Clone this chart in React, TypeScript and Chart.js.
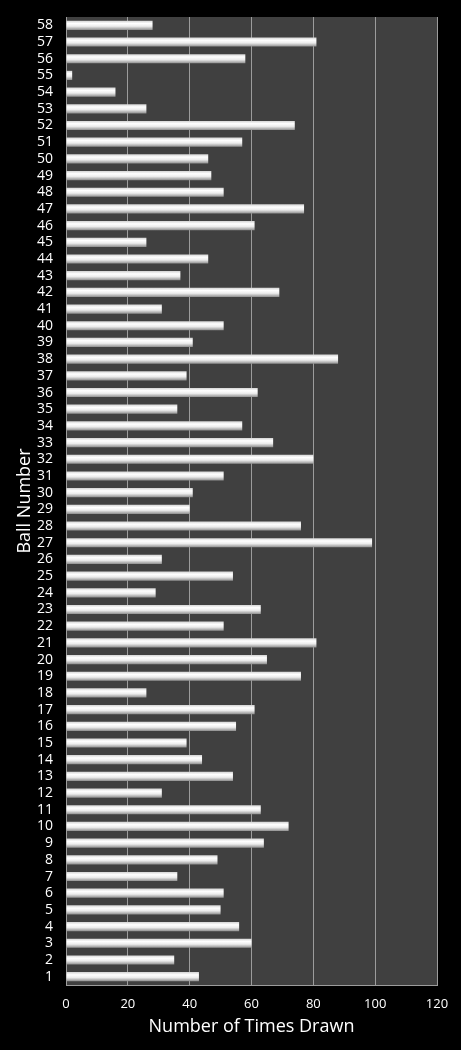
import React, { useRef, useEffect } from 'react';
import { Chart, registerables } from 'chart.js';

Chart.register(...registerables);

const balls = Array.from({ length: 58 }, (_, i) => String(i + 1));

// times drawn for balls 1..58
const timesDrawn = [
  43, 35, 60, 56, 50, 51, 36, 49, 64, 72,
  63, 31, 54, 44, 39, 55, 61, 26, 76, 65,
  81, 51, 63, 29, 54, 31, 99, 76, 40, 41,
  51, 80, 67, 57, 36, 62, 39, 88, 41, 51,
  31, 69, 37, 46, 26, 61, 77, 51, 47, 46,
  57, 74, 26, 16, 2, 58, 81, 28,
];

const xTicks = [0, 20, 40, 60, 80, 100, 120];

const FONT = '"Open Sans", sans-serif';

const plotBg = {
  id: 'plotBg',
  beforeDraw(chart: Chart) {
    const { ctx, chartArea } = chart;
    ctx.save();
    ctx.fillStyle = '#404040';
    ctx.fillRect(chartArea.left, chartArea.top, chartArea.right - chartArea.left, chartArea.bottom - chartArea.top);
    ctx.restore();
  },
};

// shiny cylinder-ish fill per bar
const barShade = {
  id: 'barShade',
  beforeDatasetsDraw(chart: Chart) {
    const { ctx } = chart;
    const meta = chart.getDatasetMeta(0);
    meta.data.forEach((el: any) => {
      const h = el.height;
      const g = ctx.createLinearGradient(0, el.y - h / 2, 0, el.y + h / 2);
      g.addColorStop(0, '#d4d4d4');
      g.addColorStop(0.3, '#ffffff');
      g.addColorStop(0.6, '#ececec');
      g.addColorStop(1, '#8e8e8e');
      el.options.backgroundColor = g;
    });
  },
};

export default function App() {
  const canvasRef = useRef<HTMLCanvasElement>(null);
  const chartRef = useRef<Chart | null>(null);

  useEffect(() => {
    document.body.style.margin = '0';
    document.body.style.background = '#000';
    if (!canvasRef.current) return;
    if (chartRef.current) chartRef.current.destroy();

    chartRef.current = new Chart(canvasRef.current, {
      type: 'bar',
      data: {
        labels: balls,
        datasets: [{
          data: timesDrawn,
          backgroundColor: () => '#e0e0e0',
          borderWidth: 0,
          barPercentage: 0.55,
          categoryPercentage: 1,
        }],
      },
      options: {
        indexAxis: 'y',
        animation: false,
        responsive: true,
        maintainAspectRatio: false,
        layout: { padding: { left: 0, right: 24, top: 17, bottom: 0 } },
        plugins: {
          legend: { display: false },
          tooltip: { enabled: false },
        },
        scales: {
          x: {
            min: 0,
            max: 120,
            afterBuildTicks: (scale: any) => {
              scale.ticks = xTicks.map((v) => ({ value: v }));
            },
            afterFit: (scale: any) => { scale.height = 65; },
            grid: { color: '#9c9c9c', lineWidth: 1, drawTicks: false },
            border: { display: true, color: '#9c9c9c' },
            ticks: { color: '#ffffff', padding: 11, font: { family: FONT, size: 13 } },
            title: {
              display: true,
              text: 'Number of Times Drawn',
              color: '#ffffff',
              font: { family: FONT, size: 18 },
              padding: { top: 0, bottom: 12 },
            },
          },
          y: {
            reverse: true,
            afterFit: (scale: any) => {
              scale.width = 66;
              scale.paddingTop = 0;
              scale.paddingBottom = 0;
            },
            grid: { display: false, drawTicks: false },
            border: { display: true, color: '#9c9c9c' },
            ticks: { color: '#ffffff', padding: 13, autoSkip: false, font: { family: FONT, size: 14 } },
            title: {
              display: true,
              text: 'Ball Number',
              color: '#ffffff',
              font: { family: FONT, size: 18 },
              padding: { top: 14, bottom: 0 },
            },
          },
        },
      },
      plugins: [plotBg, barShade],
    });

    return () => {
      if (chartRef.current) {
        chartRef.current.destroy();
        chartRef.current = null;
      }
    };
  }, []);

  return (
    <div style={{ position: 'absolute', left: 0, top: 0, width: 461, height: 1050, background: '#000' }}>
      <canvas ref={canvasRef} />
    </div>
  );
}
